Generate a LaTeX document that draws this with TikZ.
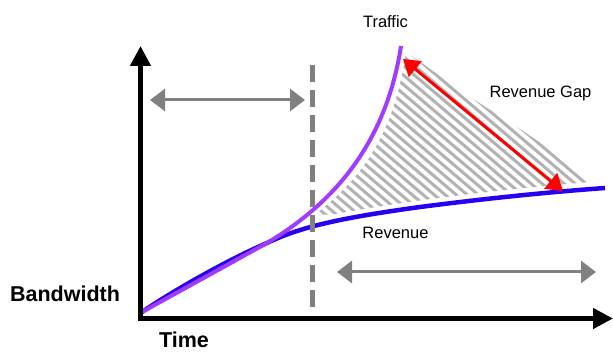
\documentclass[tikz,border=0pt]{standalone}
\usepackage{fontspec}
\setmainfont{Liberation Sans}
\usetikzlibrary{arrows.meta}
\definecolor{trafficc}{RGB}{160,60,255}
\definecolor{revenuec}{RGB}{40,0,240}
\definecolor{grayarrow}{RGB}{128,128,128}
\definecolor{hatchc}{RGB}{178,178,178}
\tikzset{
  lbl/.style={font=\fontsize{16.5}{20}\selectfont, anchor=base, inner sep=0pt},
  boldlbl/.style={font=\fontsize{21.5}{26}\selectfont\bfseries, anchor=base, inner sep=0pt},
  axisline/.style={line width=4.5pt, black, line join=miter, {Triangle[length=20pt,width=20pt]}-{Triangle[length=20pt,width=20pt]}},
  spanarrow/.style={line width=3pt, grayarrow, {Triangle[length=15pt,width=22pt]}-{Triangle[length=15pt,width=22pt]}},
  gaparrow/.style={line width=3pt, red, {Triangle[length=16pt,width=20pt]}-{Triangle[length=16pt,width=20pt]}},
  dashline/.style={line width=5pt, grayarrow, dash pattern=on 17pt off 8pt},
  hatchline/.style={line width=3pt, hatchc},
  trafficline/.style={line width=4pt, trafficc},
  revenueline/.style={line width=4.5pt, revenuec}
}
\begin{document}
\begin{tikzpicture}[x=1pt,y=-1pt]
\useasboundingbox (0,0) rectangle (613,352);
% hatch
\begin{scope}
\clip (316,214) .. controls (345,190) and (392,152) .. (406,52)
  -- (433,71) -- (473,99) -- (517,127) -- (560,156) -- (590,182)
  .. controls (520,188) and (420,198) .. (330,215) -- cycle;
\foreach \xx in {40,51,...,620} {
  \draw[hatchline] (\xx,0) -- ++(300,255);
}
\end{scope}
% curves
\draw[revenueline] (142,312) .. controls (179,287) and (232,258) .. (267,243)
  .. controls (300,227) and (340,218) .. (420,207)
  .. controls (490,198) and (550,192) .. (605,188);
\draw[trafficline] (142,312) -- (267,243) .. controls (327,207) and (385,150) .. (401,46);
% dashed divider
\coordinate (dtop) at (312,65);
\coordinate (dbot) at (312,312);
\draw[dashline] (dtop) -- (dbot);
% axes
\coordinate (ytop) at (140.5,46);
\coordinate (O) at (140.5,318.5);
\coordinate (xend) at (613,318.5);
\draw[axisline] (ytop) -- (O) -- (xend);
% span arrows
\coordinate (s1a) at (150,100);
\coordinate (s1b) at (305,100);
\draw[spanarrow] (s1a) -- (s1b);
\coordinate (s2a) at (337,272);
\coordinate (s2b) at (596,272);
\draw[spanarrow] (s2a) -- (s2b);
% gap arrow
\coordinate (g1) at (403,59);
\coordinate (g2) at (563,191);
\draw[gaparrow] (g1) -- (g2);
% labels
\node[lbl] (traffic) at (385.5,28) {Traffic};
\node[lbl] (gap) at (540.5,98) {Revenue Gap};
\node[lbl] (revenue) at (395.5,238.5) {Revenue};
\node[boldlbl] (bw) at (65,302) {Bandwidth};
\node[boldlbl] (time) at (184,348) {Time};
\end{tikzpicture}
\end{document}
